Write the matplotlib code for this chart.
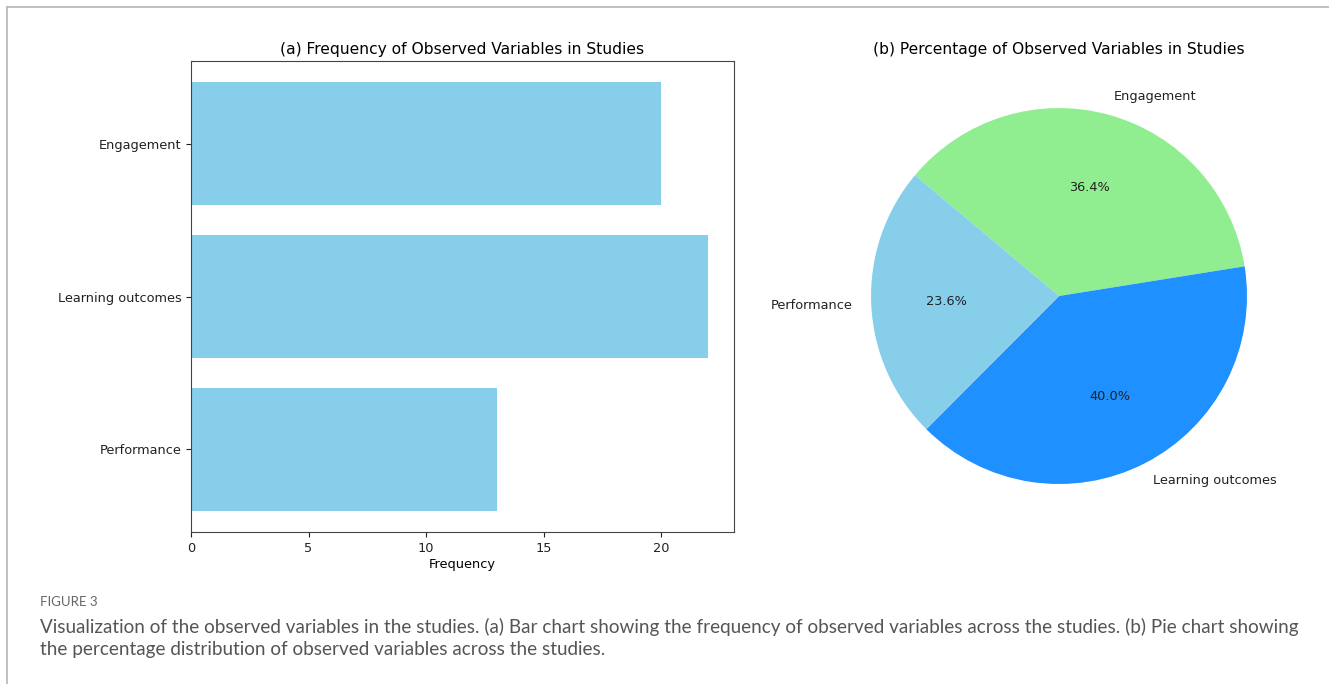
import matplotlib
matplotlib.use('Agg')
import matplotlib.pyplot as plt
from matplotlib.lines import Line2D

# observed variables and how many studies reported them
categories = ['Engagement', 'Learning outcomes', 'Performance']
frequency = [20, 22, 13]
pie_colors = ['lightgreen', 'dodgerblue', 'skyblue']

caption_head = 'FIGURE 3'
caption_text = ('Visualization of the observed variables in the studies. (a) Bar chart showing the frequency of '
                'observed variables across the studies. (b) Pie chart showing\n'
                'the percentage distribution of observed variables across the studies.')

fig = plt.figure(figsize=(13.29, 6.84), dpi=100)

# (a) bar chart
ax1 = fig.add_axes([0.1437, 0.2222, 0.4086, 0.6886])
ax1.barh(categories, frequency, color='skyblue')
ax1.invert_yaxis()
ax1.set_xlabel('Frequency', fontsize=9.3, labelpad=2)
ax1.set_title('(a) Frequency of Observed Variables in Studies', fontsize=11.2, pad=5)
ax1.tick_params(labelsize=9.3, colors='#222222')
for s in ax1.spines.values():
    s.set_color('#444444')

# (b) pie chart
ax2 = fig.add_axes([0.62, 0.2237, 0.3537, 0.687])
ax2.pie(frequency, labels=categories, colors=pie_colors, autopct='%1.1f%%',
        startangle=140, counterclock=False, textprops={'fontsize': 9.3, 'color': '#222222'})
ax2.set_xlim(-1.25, 1.25)
ax2.set_ylim(-1.25, 1.25)
ax2.set_aspect('equal')
ax2.set_title('(b) Percentage of Observed Variables in Studies', fontsize=11.2, pad=5)

# page frame and caption
fig.add_artist(Line2D([7 / 1329, 1], [1 - 7 / 684, 1 - 7 / 684], color='#b5b5b5', lw=1.2))
fig.add_artist(Line2D([7 / 1329, 7 / 1329], [0, 1 - 7 / 684], color='#b5b5b5', lw=1.2))
fig.text(40 / 1329, 1 - 602 / 684, caption_head, fontsize=9.5, color='#666666', family='Lato', va='center')
fig.text(40 / 1329, 1 - 638 / 684, caption_text, fontsize=13.6, color='#555555', family='Lato',
         va='center', linespacing=1.3)

fig.savefig('out.png', dpi=100)
